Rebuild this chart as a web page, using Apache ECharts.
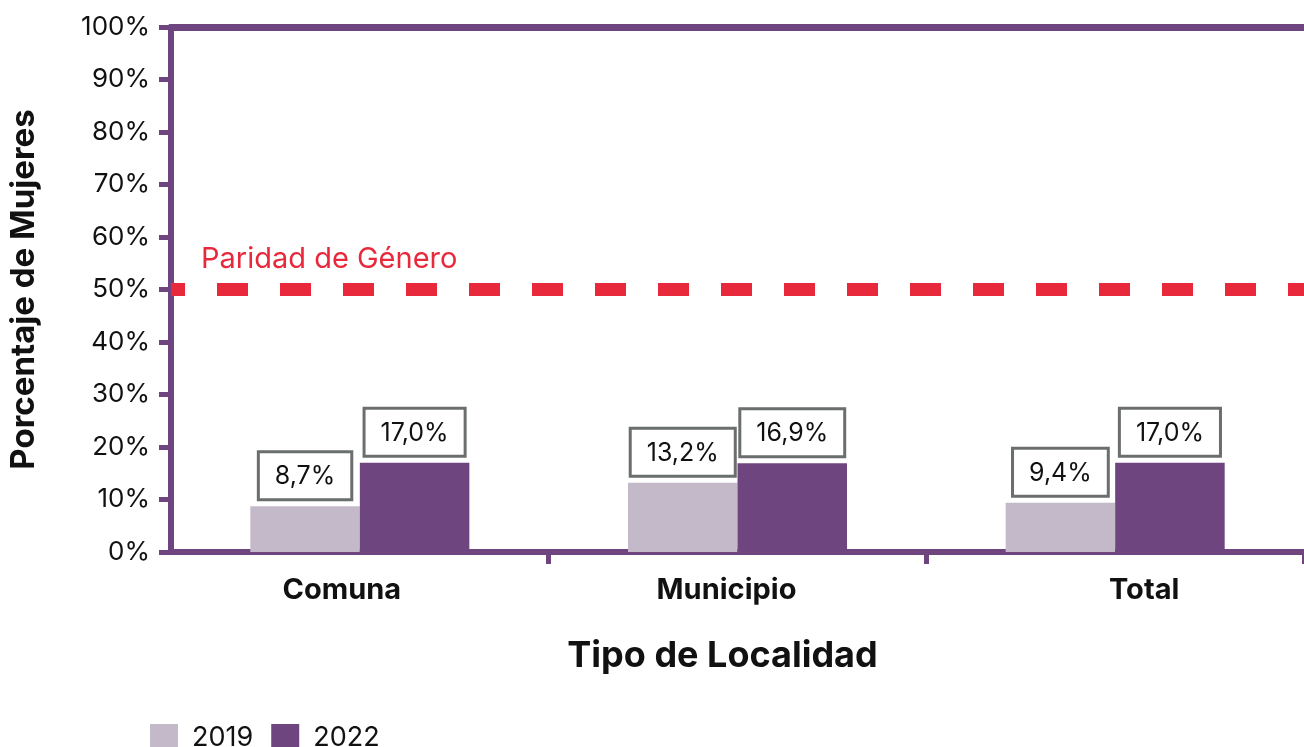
<!DOCTYPE html>
<html>
<head>
<meta charset="utf-8">
<script src="https://cdn.jsdelivr.net/npm/echarts@6/dist/echarts.min.js"></script>
<style>
  html, body { margin: 0; padding: 0; background: #fff; }
  #main { width: 1304px; height: 747px; }
</style>
</head>
<body>
<div id="main"></div>
<script>
var categories = ['Comuna', 'Municipio', 'Total'];
var years = ['2019', '2022'];
var values2019 = [8.7, 13.2, 9.4];
var values2022 = [17.0, 16.9, 17.0];
var yTicks = [0, 10, 20, 30, 40, 50, 60, 70, 80, 90, 100];
var parityValue = 50;

var purple = '#6f4580';
var lilac = '#c4b9c8';
var red = '#e8293b';
var font = 'Inter, "Noto Sans", sans-serif';

// the labels are not exactly centred under the groups in the original
var labelShift = [-18, -11, 29];

function pct(v) {
    return v.toFixed(1).replace('.', ',') + '%';
}

function boxLabel() {
    return {
        show: true,
        position: 'top',
        distance: 8,
        formatter: function (p) { return pct(p.value); },
        backgroundColor: '#fff',
        borderColor: '#6b6e6e',
        borderWidth: 3,
        padding: [11, 15, 9, 15],
        fontSize: 25,
        fontFamily: font,
        color: '#111'
    };
}

var chart = echarts.init(document.getElementById('main'));

var catData = categories.map(function (c, i) {
    var s = labelShift[i];
    return {
        value: c,
        textStyle: { padding: s < 0 ? [0, -2 * s, 0, 0] : [0, 0, 0, 2 * s] }
    };
});

var option = {
    animation: false,
    grid: { left: 168, right: -13, top: 27, bottom: 195 },
    legend: {
        data: years,
        left: 145,
        top: 719,
        itemWidth: 28,
        itemHeight: 27,
        itemGap: 18,
        icon: 'rect',
        textStyle: { fontSize: 27, fontFamily: font, color: '#111', padding: [0, 0, 0, 9] }
    },
    xAxis: [{
        type: 'category',
        data: catData,
        name: 'Tipo de Localidad',
        nameLocation: 'middle',
        nameGap: 86,
        nameTextStyle: { fontSize: 36, fontWeight: 'bold', fontFamily: font, color: '#111', padding: [0, 30, 0, 0] },
        axisLine: { lineStyle: { color: purple, width: 6 } },
        axisTick: {
            show: true,
            length: 12,
            interval: function (i) { return i !== 0; },
            lineStyle: { color: purple, width: 5 }
        },
        axisLabel: { fontSize: 29, fontWeight: 'bold', fontFamily: font, color: '#111', margin: 24 }
    }, {
        type: 'category',
        position: 'top',
        data: categories,
        axisLine: { lineStyle: { color: purple, width: 7 } },
        axisTick: { show: false },
        axisLabel: { show: false }
    }],
    yAxis: {
        type: 'value',
        min: yTicks[0],
        max: yTicks[yTicks.length - 1],
        interval: 10,
        name: 'Porcentaje de Mujeres',
        nameLocation: 'middle',
        nameGap: 130,
        nameTextStyle: { fontSize: 33, fontWeight: 'bold', fontFamily: font, color: '#111' },
        axisLine: { show: true, lineStyle: { color: purple, width: 6 } },
        axisTick: { show: true, length: 12, lineStyle: { color: purple, width: 5 } },
        splitLine: { show: false },
        axisLabel: {
            fontSize: 26,
            fontFamily: font,
            color: '#111',
            margin: 21,
            formatter: function (v) { return v + '%'; }
        }
    },
    series: [{
        name: years[0],
        type: 'bar',
        data: values2019,
        barGap: '0%',
        barCategoryGap: '42%',
        itemStyle: { color: lilac },
        label: boxLabel(),
        markLine: {
            silent: true,
            symbol: 'none',
            data: [{ yAxis: parityValue }],
            lineStyle: { color: red, width: 13, type: [31, 32], dashOffset: 17 },
            label: {
                show: true,
                position: 'insideStartTop',
                formatter: 'Paridad de Género',
                color: red,
                fontSize: 29,
                fontFamily: font,
                distance: [30, 16]
            }
        }
    }, {
        name: years[1],
        type: 'bar',
        data: values2022,
        itemStyle: { color: purple },
        label: boxLabel()
    }]
};

chart.setOption(option);
</script>
</body>
</html>
